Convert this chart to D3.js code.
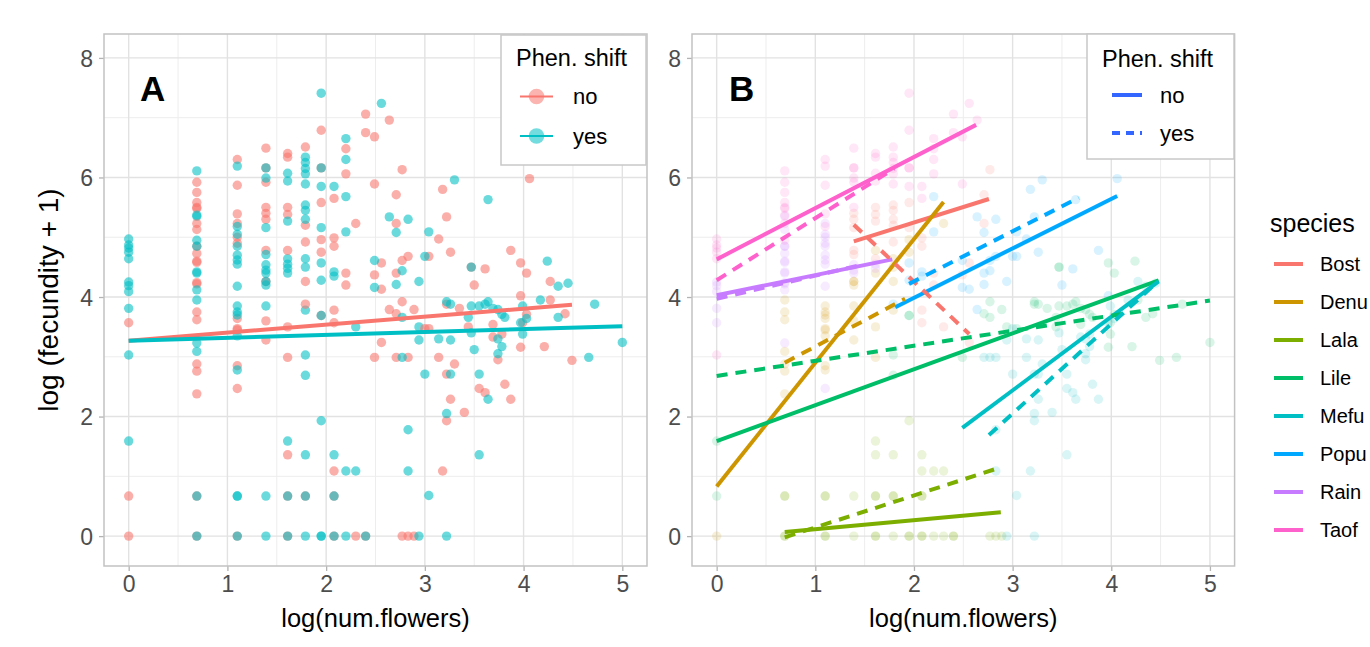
<!DOCTYPE html>
<html>
<head>
<meta charset="utf-8">
<script src="https://cdn.jsdelivr.net/npm/d3@7"></script>
<style>
  body { margin: 0; background: #fff; }
  text { font-family: "Liberation Sans", Arial, Helvetica, sans-serif; }
</style>
</head>
<body>
<div id="container"></div>
<script>
// points: [log(num.flowers), log(fecundity + 1)], split by species and phen. shift
const bostNo = [[1.39,5.4],[1.39,5.3],[1.39,4.78],[1.61,5.5],[1.61,5.38],[1.79,5.2],[1.79,4.92],[1.95,5.58],[2.08,4.99],[2.08,4.85],[2.08,3.78],[2.08,3.57],[2.2,4.4],[2.2,4.2],[2.49,4.37],[2.56,4.57],[2.56,3.24],[2.71,5.71],[2.71,5.23],[2.77,6.13]]
const bostYes = [[1.39,5.16],[1.39,4.71],[1.61,5.27],[1.61,4.64],[1.79,5.54],[1.79,5.45],[1.79,5.3],[1.95,5.16],[2.3,3.5]]
const denuNo = [[0,0],[0.69,3.75],[0.69,3.62],[0.69,2.88],[0.69,2.76],[0.69,2.38],[1.1,3.64],[1.1,3.47],[1.1,3.45],[1.1,2.85],[1.39,4.26],[1.39,3.6],[1.39,3.28],[1.61,4.78],[1.61,3.5],[1.61,2.99],[1.79,4.26],[1.95,4.96],[1.95,4.75],[2.3,5.23]]
const denuYes = [[0.69,3.95],[0.69,3.09],[1.1,3.85],[1.1,3.75],[1.1,3.7],[1.1,3.35],[1.1,2.78],[1.39,4.26],[1.39,4.2],[1.39,3.85],[1.61,4.4],[1.79,4.64],[1.79,4.5],[1.79,3.78]]
const lalaNo = [[0.69,0.67],[0.69,0],[1.1,0],[1.61,1.36],[1.61,0.67],[1.61,0],[1.79,0.67],[2.08,1.09],[2.08,0.67],[2.08,0],[2.3,0],[2.4,0],[2.77,0],[2.83,0],[2.89,0]]
const lalaYes = [[0.69,0.67],[0.69,0],[1.1,0.67],[1.1,0.67],[1.1,0],[1.39,0.67],[1.39,0],[1.61,1.59],[1.61,0.67],[1.61,0],[1.79,1.36],[1.79,0.67],[1.79,0],[1.95,1.93],[1.95,0],[1.95,0],[2.08,1.36],[2.08,0.67],[2.08,0],[2.2,1.09],[2.2,0],[2.3,1.09],[2.4,0]]
const lileNo = [[0,0.67],[1.95,3.69],[2.49,2.99],[2.71,3.72],[2.77,3.92],[2.89,3.79],[3.04,3.47],[3.22,3.88],[3.35,3.81],[3.44,3.5],[3.47,4.5],[3.69,3.54],[3.97,4.57],[3.97,3.16],[3.99,3.57],[4.03,4.4],[4.03,3.71],[4.21,3.17],[4.27,3.95],[4.42,3.72],[4.49,2.94]]
const lileYes = [[0,1.59],[1.79,3.03],[1.79,2.69],[1.95,3.69],[2.77,3.66],[2.94,3.5],[3.22,3.92],[3.26,3.88],[3.44,3.66],[3.47,4.5],[3.47,3.85],[3.55,3.85],[3.61,3.88],[3.64,3.92],[3.69,3.81],[3.74,3.79],[3.78,3.71],[3.81,3.66],[3.99,3.38],[4.24,4.6],[4.35,3.66],[4.66,2.99],[4.72,3.88],[5.0,3.24]]
const mefuNo = [[2.71,2.99],[2.83,2.99],[3.0,3.47],[3.14,2.99],[3.18,1.09],[3.22,1.93],[3.22,2.71],[3.26,2.29],[3.3,2.88],[3.4,2.07],[3.55,2.47],[3.61,2.4],[3.69,3.33],[3.74,2.95],[3.78,3.38],[3.81,2.54],[3.87,2.29],[4.27,4.26]]
const mefuYes = [[2.77,2.99],[2.83,1.78],[2.83,1.09],[2.94,3.28],[2.94,0],[3.0,2.71],[3.04,0.68],[3.14,3.3],[3.22,2.05],[3.22,0],[3.26,3.28],[3.26,2.71],[3.47,3.4],[3.5,3.12],[3.55,2.71],[3.55,1.36],[3.64,2.29],[3.74,3.3],[3.74,3.05],[3.78,3.17],[3.97,3.57],[3.99,3.85],[4.03,3.64],[4.17,3.95],[4.35,4.18],[4.45,4.23]]
const popuNo = [[1.79,3.88],[2.56,4.13],[2.64,3.79],[2.71,4.4],[2.77,4.61],[2.83,4.68],[3.04,4.68],[3.14,4.97],[3.18,5.8],[3.22,5.34],[3.26,4.75],[3.5,4.2],[3.61,4.47],[3.87,4.78],[3.97,4.02],[4.06,5.98]]
const popuYes = [[1.95,4.57],[1.95,4.28],[2.08,4.42],[2.08,4.35],[2.2,5.68],[2.2,5.09],[2.49,4.61],[2.49,4.16],[2.64,5.34],[2.71,5.08],[2.71,4.21],[2.77,4.44],[2.83,5.3],[2.94,4.26],[3.0,4.68],[3.04,5.09],[3.3,5.96],[3.64,5.63]]
const rainNo = [[0,3.57],[0.69,5.13],[0.69,4.85],[0.69,4.73],[0.69,4.6],[0.69,4.58],[0.69,4.24],[0.69,4.22],[1.1,5.23],[1.1,5.0],[1.1,4.9],[1.1,2.47]]
const rainYes = [[0,4.25],[0,4.19],[0,4.09],[0,3.81],[0.69,5.35],[0.69,4.85],[0.69,4.42],[0.69,4.4],[0.69,4.12],[0.69,3.23],[1.1,5.05],[1.1,4.85],[1.1,4.7],[1.1,4.62],[1.1,4.55],[1.1,4.18],[1.39,4.54],[1.39,4.45],[1.39,4.4],[1.61,4.55],[1.61,4.48]]
const taofNo = [[0.69,5.92],[0.69,5.75],[0.69,5.58],[0.69,5.5],[0.69,5.48],[0.69,5.23],[1.1,6.3],[1.1,5.87],[1.1,5.39],[1.39,6.49],[1.39,6.16],[1.39,5.92],[1.39,5.5],[1.61,6.4],[1.61,6.34],[1.79,6.51],[1.95,6.79],[1.95,6.16],[2.08,5.65],[2.2,6.48],[2.2,6.06],[2.4,7.06],[2.4,6.75],[2.49,6.68],[2.49,5.89],[2.64,6.96]]
const taofYes = [[0,4.97],[0,4.87],[0,4.82],[0,4.75],[0,4.64],[0,3.03],[0.69,6.11],[0.69,5.37],[0.69,4.95],[1.1,6.19],[1.1,5.18],[1.39,6.16],[1.39,5.99],[1.61,6.07],[1.61,5.94],[1.79,6.34],[1.79,6.25],[1.79,6.15],[1.79,6.06],[1.79,5.89],[1.95,7.41],[1.95,6.16],[1.95,5.85],[2.08,5.85],[2.2,6.65],[2.2,6.3],[2.56,7.24]]

const speciesNames = ['Bost', 'Denu', 'Lala', 'Lile', 'Mefu', 'Popu', 'Rain', 'Taof']
const speciesColors = ['#F8766D', '#CD9600', '#7CAE00', '#00BE67', '#00BFC4', '#00A9FF', '#C77CFF', '#FF61CC']
const shiftNames = ['no', 'yes']
const shiftColors = ['#F8766D', '#00BFC4']

// fitted lines: [x0, y0, x1, y1]
const fitA = {
  no: [0, 3.27, 4.49, 3.87],
  yes: [0, 3.27, 5.0, 3.51]
}
const fitBNo = [[1.39,4.93,2.76,5.64],[0,0.83,2.30,5.59],[0.69,0.07,2.88,0.40],[0,1.59,4.48,4.28],[2.49,1.81,4.48,4.26],[1.81,3.83,4.06,5.69],[0,4.03,1.78,4.63],[0,4.63,2.63,6.88]]
const fitBYes = [[1.39,5.21,2.56,3.38],[0.69,2.90,1.91,3.97],[0.69,-0.02,2.86,1.14],[0,2.68,5.0,3.94],[2.76,1.69,4.44,4.21],[1.95,4.22,3.67,5.66],[0,3.97,1.5,4.55],[0,4.28,1.8,6.15]]

const xTicks = [0, 1, 2, 3, 4, 5]
const yTicks = [0, 2, 4, 6, 8]

const w = 1370
const h = 647

const pointSets = [
  [bostNo, bostYes], [denuNo, denuYes], [lalaNo, lalaYes], [lileNo, lileYes],
  [mefuNo, mefuYes], [popuNo, popuYes], [rainNo, rainYes], [taofNo, taofYes]
]
const points = []
pointSets.forEach((pair, si) => {
  pair.forEach((arr, shi) => {
    arr.forEach(p => points.push({ x: p[0], y: p[1], species: si, shift: shi }))
  })
})

const svg = d3.select('#container')
  .append('svg')
  .attr('width', w)
  .attr('height', h)

svg.append('rect').attr('width', w).attr('height', h).attr('fill', '#fff')

const frameTop = 34
const frameBottom = 566

function panel(left, right) {
  const x = d3.scaleLinear().domain([-0.25, 5.25]).range([left, right])
  const y = d3.scaleLinear().domain([-0.5, 8.4]).range([frameBottom, frameTop])
  const g = svg.append('g')

  //GRID minor
  g.selectAll('.xminor')
    .data(d3.range(0.5, 5.5, 1))
    .enter().append('line')
    .attr('x1', d => x(d)).attr('x2', d => x(d))
    .attr('y1', frameTop).attr('y2', frameBottom)
    .attr('stroke', '#ededed').attr('stroke-width', 1)
  g.selectAll('.yminor')
    .data([1, 3, 5, 7])
    .enter().append('line')
    .attr('y1', d => y(d)).attr('y2', d => y(d))
    .attr('x1', left).attr('x2', right)
    .attr('stroke', '#ededed').attr('stroke-width', 1)
  //GRID major
  g.selectAll('.xmajor')
    .data(xTicks)
    .enter().append('line')
    .attr('x1', d => x(d)).attr('x2', d => x(d))
    .attr('y1', frameTop).attr('y2', frameBottom)
    .attr('stroke', '#e2e2e2').attr('stroke-width', 1.4)
  g.selectAll('.ymajor')
    .data(yTicks)
    .enter().append('line')
    .attr('y1', d => y(d)).attr('y2', d => y(d))
    .attr('x1', left).attr('x2', right)
    .attr('stroke', '#e2e2e2').attr('stroke-width', 1.4)

  //AXES
  const xAxis = d3.axisBottom(x).tickValues(xTicks).tickSize(5).tickPadding(5).tickFormat(d3.format('d'))
  const yAxis = d3.axisLeft(y).tickValues(yTicks).tickSize(5).tickPadding(6).tickFormat(d3.format('d'))
  const gx = g.append('g').attr('transform', `translate(0,${frameBottom})`).call(xAxis)
  const gy = g.append('g').attr('transform', `translate(${left},0)`).call(yAxis)
  ;[gx, gy].forEach(a => {
    a.select('.domain').remove()
    a.selectAll('.tick line').attr('stroke', '#b3b3b3').attr('stroke-width', 1.3)
    a.selectAll('.tick text')
      .attr('fill', '#4d4d4d')
      .style('font-size', '23px')
      .style('font-family', '"Liberation Sans", Arial, sans-serif')
  })
  gy.selectAll('.tick text').attr('dy', '0.36em')

  g.append('text')
    .attr('x', (left + right) / 2)
    .attr('y', 627)
    .attr('text-anchor', 'middle')
    .style('font-size', '25.5px')
    .text('log(num.flowers)')

  return { g, x, y, left, right }
}

function frame(p) {
  p.g.append('rect')
    .attr('x', p.left).attr('y', frameTop)
    .attr('width', p.right - p.left).attr('height', frameBottom - frameTop)
    .attr('fill', 'none')
    .attr('stroke', '#c2c2c2')
    .attr('stroke-width', 1.5)
}

//PANEL A
const pA = panel(104, 647)
pA.g.append('g').selectAll('circle')
  .data(points)
  .enter().append('circle')
  .attr('cx', d => pA.x(d.x))
  .attr('cy', d => pA.y(d.y))
  .attr('r', 4.7)
  .attr('fill', d => shiftColors[d.shift])
  .attr('fill-opacity', 0.58)

shiftNames.forEach((s, i) => {
  const f = fitA[s]
  pA.g.append('line')
    .attr('x1', pA.x(f[0])).attr('y1', pA.y(f[1]))
    .attr('x2', pA.x(f[2])).attr('y2', pA.y(f[3]))
    .attr('stroke', shiftColors[i])
    .attr('stroke-width', 4)
})
frame(pA)

svg.append('text')
  .attr('transform', 'translate(58,300) rotate(-90)')
  .attr('text-anchor', 'middle')
  .style('font-size', '28px')
  .text('log (fecundity + 1)')

pA.g.append('text')
  .attr('x', 140).attr('y', 101)
  .style('font-size', '35px').style('font-weight', 'bold')
  .text('A')

//legend A
const legA = svg.append('g')
legA.append('rect')
  .attr('x', 501).attr('y', 35).attr('width', 145).attr('height', 130)
  .attr('fill', '#fff').attr('stroke', '#c8c8c8').attr('stroke-width', 1.5)
legA.append('text').attr('x', 516).attr('y', 66).style('font-size', '23.5px').text('Phen. shift')
shiftNames.forEach((s, i) => {
  const cy = 96.5 + i * 39.5
  legA.append('line')
    .attr('x1', 520).attr('x2', 553).attr('y1', cy).attr('y2', cy)
    .attr('stroke', shiftColors[i]).attr('stroke-width', 2.2)
  legA.append('circle')
    .attr('cx', 536.5).attr('cy', cy).attr('r', 7.8)
    .attr('fill', shiftColors[i]).attr('fill-opacity', 0.55)
  legA.append('text')
    .attr('x', 573).attr('y', cy).attr('dy', '0.36em')
    .style('font-size', '22px').text(s)
})

//PANEL B
const pB = panel(692, 1234.6)
pB.g.append('g').selectAll('circle')
  .data(points)
  .enter().append('circle')
  .attr('cx', d => pB.x(d.x))
  .attr('cy', d => pB.y(d.y))
  .attr('r', 4.7)
  .attr('fill', d => speciesColors[d.species])
  .attr('fill-opacity', 0.15)

;[fitBNo, fitBYes].forEach((fits, shi) => {
  fits.forEach((f, si) => {
    pB.g.append('line')
      .attr('x1', pB.x(f[0])).attr('y1', pB.y(f[1]))
      .attr('x2', pB.x(f[2])).attr('y2', pB.y(f[3]))
      .attr('stroke', speciesColors[si])
      .attr('stroke-width', 4)
      .attr('stroke-dasharray', shi ? '11,8' : null)
  })
})
frame(pB)

pB.g.append('text')
  .attr('x', 729).attr('y', 101)
  .style('font-size', '35px').style('font-weight', 'bold')
  .text('B')

//legend B
const legB = svg.append('g')
legB.append('rect')
  .attr('x', 1087).attr('y', 34).attr('width', 147).attr('height', 125)
  .attr('fill', '#fff').attr('stroke', '#c8c8c8').attr('stroke-width', 1.5)
legB.append('text').attr('x', 1102).attr('y', 67).style('font-size', '23.5px').text('Phen. shift')
shiftNames.forEach((s, i) => {
  const cy = 95 + i * 38
  legB.append('line')
    .attr('x1', 1112).attr('x2', 1142).attr('y1', cy).attr('y2', cy)
    .attr('stroke', '#3366FF').attr('stroke-width', 4)
    .attr('stroke-dasharray', i ? '8,6' : null)
  legB.append('text')
    .attr('x', 1160).attr('y', cy).attr('dy', '0.36em')
    .style('font-size', '22px').text(s)
})

//species legend
const legS = svg.append('g')
legS.append('text').attr('x', 1270).attr('y', 232).style('font-size', '25px').text('species')
speciesNames.forEach((s, i) => {
  const cy = 264 + i * 38
  legS.append('line')
    .attr('x1', 1274).attr('x2', 1303).attr('y1', cy).attr('y2', cy)
    .attr('stroke', speciesColors[i]).attr('stroke-width', 4)
  legS.append('text')
    .attr('x', 1320).attr('y', cy).attr('dy', '0.36em')
    .style('font-size', '20px').text(s)
})
</script>
</body>
</html>
